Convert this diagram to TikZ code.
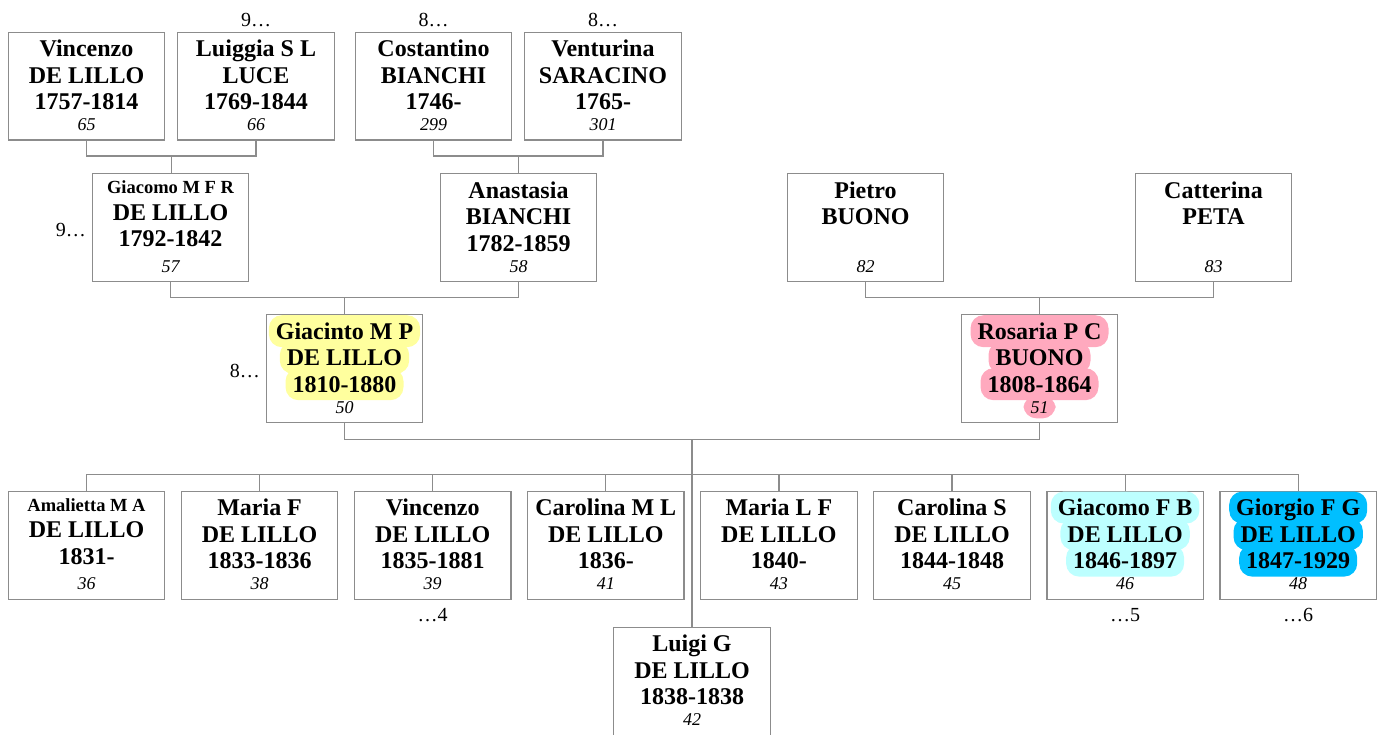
\documentclass[tikz,border=0pt]{standalone}
\usepackage{fontspec}
\setmainfont{Liberation Serif}
\usetikzlibrary{calc}
\definecolor{linegray}{HTML}{8C8C8C}
\definecolor{hlyellow}{HTML}{FFFF9E}
\definecolor{hlpink}{HTML}{FFA9BE}
\definecolor{hlcyan}{HTML}{BDFFFF}
\definecolor{hlblue}{HTML}{00BFFF}
\newlength\hlw
\newif\ifhlfill
\newcommand\hlcol{white}
% \hlline{top extent}{bottom extent}{text}: in the fill pass only the rounded band is drawn,
% in the text pass only the text
\newcommand\hlline[3]{\settowidth\hlw{#3}\begin{tikzpicture}[baseline=0pt]
 \ifhlfill\fill[\hlcol,overlay,rounded corners=13pt] (-7pt,-#2) rectangle (\hlw+7pt,#1);\fi
 \node[anchor=base west,inner sep=0pt,outer sep=0pt,draw=none,fill=none,minimum width=0pt,minimum height=0pt] (hltext) at (0pt,0pt) {\ifhlfill\phantom{#3}\else#3\fi};
 \path (0pt,-6pt) rectangle (\hlw,20pt);
\end{tikzpicture}}
% plain (not highlighted) text inside a highlighted box: invisible in the fill pass
\newcommand\nh[1]{\ifhlfill\phantom{#1}\else#1\fi}
\newcommand\fst{\rule{0pt}{20pt}}
\newcommand\sst{\rule{0pt}{15.5pt}}
\newcommand\smallname[1]{{\fontsize{18.5}{26.5}\selectfont\sst #1}}
\tikzset{
 pbox/.style={draw=linegray,line width=1.2pt,minimum width=156.4pt,minimum height=107.8pt,inner sep=0pt,outer sep=0pt},
 ptext/.style={anchor=north,inner sep=0pt,outer sep=0pt,align=center,font=\fontsize{24}{26.5}\selectfont\bfseries},
 pnum/.style={anchor=base,inner sep=0pt,outer sep=0pt,font=\fontsize{18}{20}\selectfont\itshape},
 lbl/.style={inner sep=0pt,outer sep=0pt,font=\fontsize{20}{22}\selectfont},
 conn/.style={draw=linegray,line width=1.2pt}
}
% \pbox{name}{centre x}{top y}{lines}{number}
\newcommand\pbox[5]{%
 \node[pbox] (#1) at (#2,#3+54.5) {};
 \node[ptext] (#1t) at ([yshift=-4.3pt]#1.north) {#4};
 \node[pnum] (#1n) at ([yshift=9.3pt]#1.south) {#5};
}
% highlighted person: \hpbox{name}{x}{top}{colour}{lines}{number}
\newcommand\hpbox[6]{%
 \node[pbox] (#1) at (#2,#3+54.5) {};
 \renewcommand\hlcol{#4}\hlfilltrue
 \node[ptext] (#1b) at ([yshift=-4.3pt]#1.north) {#5};
 \node[pnum] (#1nb) at ([yshift=9.3pt]#1.south) {#6};
 \hlfillfalse
 \node[ptext] (#1t) at ([yshift=-4.3pt]#1.north) {#5};
 \node[pnum] (#1n) at ([yshift=9.3pt]#1.south) {#6};
}
\newcommand\hlthree[3]{\hlline{24pt}{8pt}{#1}\\\hlline{24pt}{8pt}{#2}\\\hlline{24pt}{8pt}{#3}}
\begin{document}
\begin{tikzpicture}[x=1pt,y=-1pt]
\useasboundingbox (0,0) rectangle (1382,735);
% generation 1
\pbox{p65}{86.5}{31.7}{\fst Vincenzo\\DE LILLO\\1757-1814}{65}
\pbox{p66}{256}{31.7}{\fst Luiggia S L\\LUCE\\1769-1844}{66}
\pbox{p299}{433.5}{31.7}{\fst Costantino\\BIANCHI\\1746-}{299}
\pbox{p301}{603}{31.7}{\fst Venturina\\SARACINO\\1765-}{301}
% generation 2
\pbox{p57}{170.5}{173.3}{\smallname{Giacomo M F R}\\DE LILLO\\1792-1842}{57}
\pbox{p58}{518.5}{173.3}{\fst Anastasia\\BIANCHI\\1782-1859}{58}
\pbox{p82}{865.5}{173.3}{\fst Pietro\\BUONO}{82}
\pbox{p83}{1213.5}{173.3}{\fst Catterina\\PETA}{83}
% generation 3
\hpbox{p50}{344.5}{314.3}{hlyellow}{\hlthree{Giacinto M P}{DE LILLO}{1810-1880}}{\nh{50}}
\hpbox{p51}{1039.5}{314.3}{hlpink}{\hlthree{Rosaria P C}{BUONO}{1808-1864}}{\hlline{18pt}{5pt}{51}}
% children
\pbox{p36}{86.5}{490.7}{\smallname{Amalietta M A}\\DE LILLO\\1831-}{36}
\pbox{p38}{259.6}{490.7}{\fst Maria F\\DE LILLO\\1833-1836}{38}
\pbox{p39}{432.7}{490.7}{\fst Vincenzo\\DE LILLO\\1835-1881}{39}
\pbox{p41}{605.8}{490.7}{\fst Carolina M L\\DE LILLO\\1836-}{41}
\pbox{p43}{778.9}{490.7}{\fst Maria L F\\DE LILLO\\1840-}{43}
\pbox{p45}{952}{490.7}{\fst Carolina S\\DE LILLO\\1844-1848}{45}
\hpbox{p46}{1125.1}{490.7}{hlcyan}{\hlthree{Giacomo F B}{DE LILLO}{1846-1897}}{\nh{46}}
\hpbox{p48}{1298.2}{490.7}{hlblue}{\hlthree{Giorgio F G}{DE LILLO}{1847-1929}}{\nh{48}}
\pbox{p42}{692}{626.7}{\fst Luigi G\\DE LILLO\\1838-1838}{42}
% families
\coordinate (f1) at ($(p65.south)!0.5!(p66.south)+(0,16)$);
\draw[conn] (p65.south) |- (f1) -| (p66.south);
\draw[conn] (f1) -- (f1 |- p57.north);
\coordinate (f2) at ($(p299.south)!0.5!(p301.south)+(0,16)$);
\draw[conn] (p299.south) |- (f2) -| (p301.south);
\draw[conn] (f2) -- (f2 |- p58.north);
\coordinate (f3) at ($(p57.south)!0.5!(p58.south)+(0,15.7)$);
\draw[conn] (p57.south) |- (f3) -| (p58.south);
\draw[conn] (f3) -- (f3 |- p50.north);
\coordinate (f4) at ($(p82.south)!0.5!(p83.south)+(0,15.7)$);
\draw[conn] (p82.south) |- (f4) -| (p83.south);
\draw[conn] (f4) -- (f4 |- p51.north);
\coordinate (f5) at ($(p50.south)!0.5!(p51.south)+(0,16.7)$);
\draw[conn] (p50.south) |- (f5) -| (p51.south);
\draw[conn] (f5) -- (f5 |- p42.north);
\coordinate (cb) at ($(p36.north)+(0,-16.7)$);
\draw[conn] (p36.north) |- (cb) -| (p48.north);
\foreach \c in {p38,p39,p41,p43,p45,p46}{\draw[conn] (\c.north) -- (\c.north |- cb);}
% continuation labels
\node[lbl,anchor=base] (l66) at ($(p66.north)+(0,-5.7)$) {9\ldots};
\node[lbl,anchor=base] (l299) at ($(p299.north)+(0,-5.7)$) {8\ldots};
\node[lbl,anchor=base] (l301) at ($(p301.north)+(0,-5.7)$) {8\ldots};
\node[lbl,anchor=base east] (l57) at ($(p57.west)+(-6.5,8.5)$) {9\ldots};
\node[lbl,anchor=base east] (l50) at ($(p50.west)+(-6.5,9)$) {8\ldots};
\node[lbl,anchor=base] (l39) at ($(p39.south)+(0,22)$) {\ldots4};
\node[lbl,anchor=base] (l46) at ($(p46.south)+(0,22)$) {\ldots5};
\node[lbl,anchor=base] (l48) at ($(p48.south)+(0,22)$) {\ldots6};
\end{tikzpicture}
\end{document}
